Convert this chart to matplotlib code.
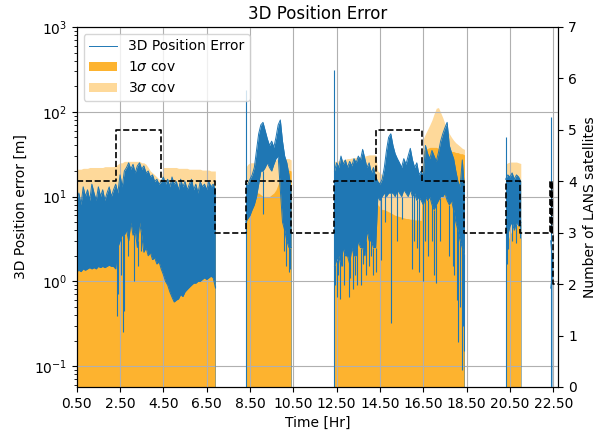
import numpy as np
import matplotlib
matplotlib.use('Agg')
import matplotlib.pyplot as plt

# Pass 1 (0.5 - 6.9 hr), 0.1 hr steps: dense error band + covariance bounds
err_hi_1 = [9, 11, 8, 13, 10, 12, 9, 14, 11, 9, 13, 10, 12, 9, 11, 13, 10, 12,
            14, 11, 18, 13, 20, 22, 25, 21, 24, 19, 23, 25, 21, 23, 19, 20, 17, 18, 15, 16, 14, 15,
            17, 14, 16, 13, 17, 14, 15, 12, 16, 13, 15, 12, 14, 16, 12, 14, 11, 15, 13, 14, 12, 15, 13, 14, 12]
err_lo_1 = [1.3, 1.35, 1.3, 1.4, 1.35, 1.4, 1.45, 1.4, 1.45, 1.4, 1.5, 1.45, 1.5, 1.45, 1.5, 1.55, 1.5, 1.5,
            1.4, 2.5, 3, 3.5, 3.5, 4, 3, 5, 3.5, 4, 2.5, 5, 3.5, 2.2, 2.5, 2.0, 2.2, 1.8, 1.9, 1.6, 1.7, 1.4,
            1.2, 1.0, 0.9, 0.75, 0.65, 0.57, 0.6, 0.62, 0.7, 0.66, 0.75, 0.8, 0.85, 0.9, 0.95, 0.95, 1.0, 1.0,
            1.05, 1.1, 1.05, 1.1, 1.15, 1.1, 0.85]
cov3_1 = [21, 21, 21, 21.5, 21.5, 21.5, 22, 22, 22, 22, 22, 22, 22, 22.5, 22.5, 22.5, 22.5, 22.5,
          23, 24, 25, 25, 26, 26, 26, 26, 26, 26, 26, 26, 25, 25, 24, 22, 20, 19, 18, 17, 16, 16,
          22, 22, 22, 22, 22, 22, 22, 21.5, 21.5, 21.5, 21.5, 21.5, 21, 21, 21, 21, 21, 21,
          20.5, 20.5, 20.5, 20.5, 20, 20, 20]
cov1_1 = [7.0, 7.0, 7.0, 7.1, 7.1, 7.1, 7.2, 7.2, 7.2, 7.2, 7.3, 7.3, 7.3, 7.4, 7.4, 7.4, 7.4, 7.5,
          7.5, 8, 8, 8, 8, 8, 8, 8, 8, 8, 8, 8, 7, 6, 5, 4.5, 4.2, 4, 4, 4, 4, 4,
          7.2, 7.2, 7.2, 7.1, 7.1, 7.1, 7.1, 7.0, 7.0, 7.0, 7.0, 7.0, 6.9, 6.9, 6.9, 6.9, 6.9, 6.8,
          6.8, 6.8, 6.8, 6.7, 6.7, 6.7, 6.7]
dip_t_1 = [2.38, 2.42, 2.55, 2.63, 2.68, 2.86, 3.15, 3.32, 3.48, 6.88]
dip_v_1 = [0.39, 0.7, 1.2, 0.25, 0.45, 2.0, 1.0, 1.5, 2.3, 0.84]

# Pass 2 (8.3 - 10.4 hr)
err_hi_2 = [14, 14, 16, 18, 22, 35, 55, 70, 75, 60, 48, 40, 45, 38, 50, 70, 80, 45, 30, 25, 18, 12]
err_lo_2 = [5, 5.5, 6, 7, 8, 10, 14, 20, 20, 22, 25, 22, 20, 24, 28, 30, 12, 5, 4, 3, 2.5, 2.5]
cov3_2 = [22, 24, 25, 25, 25, 26, 26, 26, 26, 26, 26, 27, 27, 27, 27, 28, 28, 28, 28, 28, 28, 27]
cov1_2 = [5, 6, 7, 8.5, 10, 11, 11, 10.5, 10, 10, 10, 10, 10.5, 11, 12, 14, 16, 18, 19, 20, 20.5, 20]
dip_t_2 = [9.08, 10.05, 10.15, 10.28, 10.33]
dip_v_2 = [6.2, 2.3, 1.5, 1.3, 1.4]

# Pass 3 (12.4 - 18.4 hr)
err_hi_3 = [20, 25, 22, 30, 24, 27, 22, 26, 23, 28, 25, 30, 27, 36, 28, 22, 25, 19, 22, 17,
            15, 14, 16, 22, 35, 50, 55, 40, 32, 28,
            25, 22, 28, 24, 30, 37, 27, 22, 25, 18, 20, 17, 40, 32, 28, 35, 30, 26, 33, 45,
            55, 65, 75, 40, 33, 28, 20, 15, 13, 27, 12]
err_lo_3 = [1.5, 1.8, 2, 1.5, 2.5, 2, 2, 1.6, 2.5, 2, 2, 3, 2.5, 2.5, 2, 4, 3, 3, 2.5, 2.5,
            10, 9, 10, 11, 10, 11, 11, 11, 10, 12,
            11, 10, 12, 11, 10, 12, 10, 11, 9, 10, 9, 8, 10, 9, 10, 8, 7, 8, 9, 10,
            10, 11, 9, 8, 9, 7, 5, 4, 3, 2.5, 2]
cov3_3 = [26, 26, 26.5, 27, 27, 27.5, 28, 28, 28.5, 28.5, 29, 29, 29.5, 30, 30, 30.5, 31, 31, 31, 31,
          20, 19, 18, 18, 17, 17, 17, 17, 17, 16, 16, 16, 16, 16, 16, 16, 16, 16, 16, 16, 16,
          48, 55, 62, 70, 80, 95, 110, 112, 98, 85, 72, 62, 55, 50, 46, 43, 41, 39, 37, 36]
cov1_3 = [10, 10, 10, 10.2, 10.3, 10.4, 10.5, 10.6, 10.7, 10.8, 11, 11, 11.2, 11.4, 11.5, 11.6, 11.8, 12, 12, 12,
          8, 7.5, 7, 7, 6.8, 6.6, 6.4, 6.2, 6, 5.9, 5.8, 5.7, 5.6, 5.5, 5.5, 5.4, 5.4, 5.3, 5.3, 5.3, 5.2,
          35, 36, 37, 38, 38, 38, 38, 37, 37, 36, 36, 35, 35, 34, 34, 33, 33, 32, 32, 31]
dip_t_3 = [12.42, 12.5, 12.58, 12.66, 12.75, 12.85, 12.95, 13.05, 13.12, 13.25, 13.35, 13.45,
           13.62, 13.72, 13.85, 13.98, 14.1, 14.2, 14.3, 14.55, 14.72, 15.02, 15.3, 15.5, 15.97,
           16.08, 16.22, 16.3, 16.47, 16.6, 16.72, 16.9, 17.0, 17.1, 17.25, 17.7, 17.85, 17.92,
           18.05, 18.12, 18.2, 18.28, 18.33, 18.38]
dip_v_3 = [0.9, 0.65, 1.2, 0.62, 1.5, 0.9, 2, 0.65, 1.1, 0.8, 1.2, 0.9,
           0.9, 1.6, 1.2, 1.5, 2, 1.2, 1.3, 1.8, 5, 0.32, 3, 5.5, 1.4,
           3, 2.5, 1.3, 1.0, 3, 2, 3, 1.2, 0.95, 3, 2, 1.5, 1.2,
           0.6, 0.19, 0.5, 0.09, 0.3, 0.15]

# Pass 4 (20.3 - 21.0 hr)
err_hi_4 = [16, 18, 17, 19, 16, 18, 17, 15]
err_lo_4 = [4, 3.5, 4.5, 5, 4, 5, 4.5, 5]
cov3_4 = [24, 25, 25.5, 25.5, 25.5, 25.5, 25, 24.5]
cov1_4 = [2.5, 3, 3.5, 4, 4.3, 4.5, 4.6, 4.7]
dip_t_4 = [20.35, 20.42, 20.6, 20.78, 20.95]
dip_v_4 = [1.6, 2.4, 3, 2.8, 3.2]

# Pass 5 (22.38 - 22.46 hr)
err_hi_5 = [3.0, 1.8]
err_lo_5 = [0.83, 1.2]
cov3_5 = [4, 4]
cov1_5 = [1.5, 1.5]
dip_t_5 = []
dip_v_5 = []

# start/end time of each pass
pass_start = [0.5, 8.3, 12.4, 20.3, 22.38]
pass_end = [6.9, 10.4, 18.4, 21.0, 22.46]

# short error spikes at acquisition
spike_t = [8.30, 12.39, 20.32, 22.38]
spike_top = [180, 310, 51, 87]

# number of LANS satellites in view
sat_t = [0.5, 2.3, 4.4, 6.88, 8.3, 10.4, 12.38, 14.3, 16.43, 18.38, 20.3, 20.97,
         22.36, 22.41, 22.43, 22.46, 22.5, 22.74]
sat_n = [4, 5, 4, 3, 4, 3, 4, 5, 4, 3, 4, 3, 4, 3, 4, 3, 2, 2]

err_hi = [err_hi_1, err_hi_2, err_hi_3, err_hi_4, err_hi_5]
err_lo = [err_lo_1, err_lo_2, err_lo_3, err_lo_4, err_lo_5]
cov3 = [cov3_1, cov3_2, cov3_3, cov3_4, cov3_5]
cov1 = [cov1_1, cov1_2, cov1_3, cov1_4, cov1_5]
dip_t = [dip_t_1, dip_t_2, dip_t_3, dip_t_4, dip_t_5]
dip_v = [dip_v_1, dip_v_2, dip_v_3, dip_v_4, dip_v_5]

blue = '#1f77b4'
c1 = '#FDB32F'
c3 = '#FED99A'
floor = 1e-3

fig, ax = plt.subplots(figsize=(6.02, 4.32), dpi=100)
fig.subplots_adjust(left=0.1274, right=0.9277, bottom=0.1042, top=0.9375)

for i in range(len(err_hi)):
    t = np.linspace(pass_start[i], pass_end[i], len(err_hi[i]))
    ax.fill_between(t, floor, cov3[i], color=c3, lw=0, zorder=1,
                    label=r'3$\sigma$ cov' if i == 0 else None)
    ax.fill_between(t, floor, cov1[i], color=c1, lw=0, zorder=1.2,
                    label=r'1$\sigma$ cov' if i == 0 else None)
    ax.fill_between(t, err_lo[i], err_hi[i], color=blue, lw=0, zorder=3)
    ax.plot(t, err_hi[i], color=blue, lw=0.7, zorder=3,
            label='3D Position Error' if i == 0 else None)
    ax.plot(t, err_lo[i], color=blue, lw=0.7, zorder=3)
    # quick drops of the error below the dense band
    if len(dip_t[i]):
        ax.vlines(dip_t[i], dip_v[i], np.interp(dip_t[i], t, err_lo[i]), color=blue, lw=0.8, zorder=3)
    # line drops off the chart at the end of each pass
    ax.plot([t[-1], t[-1]], [err_lo[i][-1], floor], color=blue, lw=0.6, alpha=0.5, zorder=3)

ax.vlines(spike_t, floor, spike_top, color=blue, lw=0.8, zorder=3)

ax.set_yscale('log')
ax.set_ylim(0.0566, 1000)
ax.set_xlim(0.5, 22.74)
xt = np.arange(0.5, 22.6, 2)
ax.set_xticks(xt)
ax.set_xticklabels(['%.2f' % v for v in xt])
ax.set_axisbelow(False)
ax.grid(True, which='major', color='#b0b0b0', lw=0.8)
ax.set_xlabel('Time [Hr]')
ax.set_ylabel('3D Position error [m]')
ax.set_title('3D Position Error')

h, l = ax.get_legend_handles_labels()
order = [l.index('3D Position Error'), l.index(r'1$\sigma$ cov'), l.index(r'3$\sigma$ cov')]
ax.legend([h[k] for k in order], [l[k] for k in order], loc='upper left')

ax2 = ax.twinx()
ax2.step(sat_t, sat_n, where='post', color='black', ls='--', lw=1.2)
ax2.set_ylim(0, 7)
ax2.set_ylabel('Number of LANS satellites')

fig.savefig('out.png', dpi=100)
